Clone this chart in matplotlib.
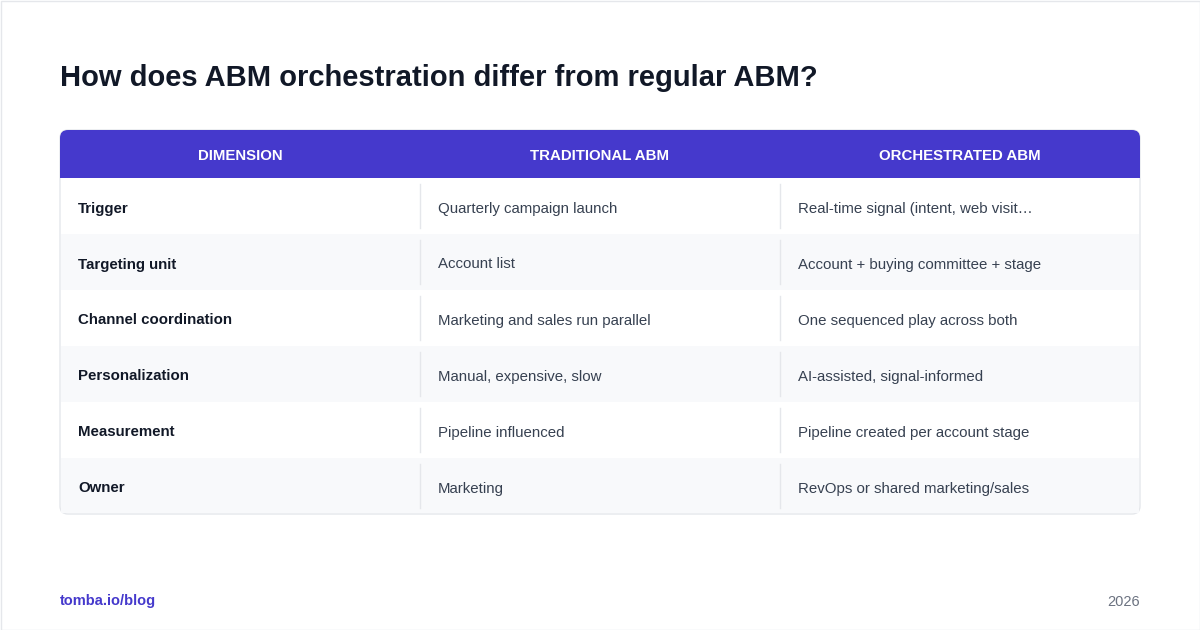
import matplotlib
matplotlib.use("Agg")
import matplotlib.pyplot as plt
from matplotlib.patches import FancyBboxPatch, Rectangle

plt.rcParams['font.family'] = ['Liberation Sans', 'DejaVu Sans']

title = "How does ABM orchestration differ from regular ABM?"
headers = ["DIMENSION", "TRADITIONAL ABM", "ORCHESTRATED ABM"]
dimensions = ["Trigger", "Targeting unit", "Channel coordination", "Personalization", "Measurement", "Owner"]
traditional = ["Quarterly campaign launch", "Account list", "Marketing and sales run parallel",
               "Manual, expensive, slow", "Pipeline influenced", "Marketing"]
orchestrated = ["Real-time signal (intent, web visit\u2026", "Account + buying committee + stage",
                "One sequenced play across both", "AI-assisted, signal-informed",
                "Pipeline created per account stage", "RevOps or shared marketing/sales"]
footer_left = "tomba.io/blog"
footer_right = "2026"

W, H = 1200, 630
fig = plt.figure(figsize=(12, 6.3), dpi=100)
ax = fig.add_axes([0, 0, 1, 1])
ax.set_xlim(0, W); ax.set_ylim(H, 0); ax.axis('off')

ax.add_patch(Rectangle((0.5, 0.5), W - 1, H - 1, fill=False, ec='#e5e7eb', lw=1))

purple = '#4539cc'
ax.text(60, 75, title, fontsize=21, fontweight='bold', color='#111827', va='center_baseline', ha='left')

x0, x1 = 60, 1140
ht, hb = 130, 178
rh = 56
nrows = len(dimensions)
bottom = hb + rh * nrows

ax.add_patch(FancyBboxPatch((x0, ht), x1 - x0, bottom - ht, boxstyle="round,pad=0,rounding_size=8",
                            fc='white', ec='#e5e7eb', lw=1, zorder=1))
ax.add_patch(FancyBboxPatch((x0, ht), x1 - x0, hb - ht, boxstyle="round,pad=0,rounding_size=8",
                            fc=purple, ec='none', zorder=2))
ax.add_patch(Rectangle((x0, ht + 10), x1 - x0, hb - ht - 10, fc=purple, ec='none', zorder=2))

cols = [x0, 420, 780, x1]
for i, h in enumerate(headers):
    ax.text((cols[i] + cols[i + 1]) / 2, (ht + hb) / 2 + 1, h, fontsize=10.8, fontweight='bold',
            color='white', ha='center', va='center_baseline', zorder=3)

fs = 10.85
for r in range(nrows):
    top = hb + r * rh
    if r % 2 == 1:
        ax.add_patch(Rectangle((x0 + 1, top), x1 - x0 - 2, rh - (1 if r == nrows - 1 else 0),
                               fc='#f8f9fb', ec='none', zorder=1.5))
    for cx in (420, 780):
        ax.plot([cx, cx], [top + 6, top + rh - 6], color='#e5e7eb', lw=1, zorder=2)
    yc = top + rh / 2 + 1
    ax.text(78, yc, dimensions[r], fontsize=fs, fontweight='bold', color='#111827', va='center_baseline', zorder=3)
    ax.text(438, yc, traditional[r], fontsize=fs, color='#374151', va='center_baseline', zorder=3)
    ax.text(798, yc, orchestrated[r], fontsize=fs, color='#374151', va='center_baseline', zorder=3)

ax.text(60, 600, footer_left, fontsize=10.5, fontweight='bold', color=purple, va='center_baseline')
ax.text(1140, 600, footer_right, fontsize=10.5, color='#6b7280', va='center_baseline', ha='right')

fig.savefig("out.png", dpi=100)
